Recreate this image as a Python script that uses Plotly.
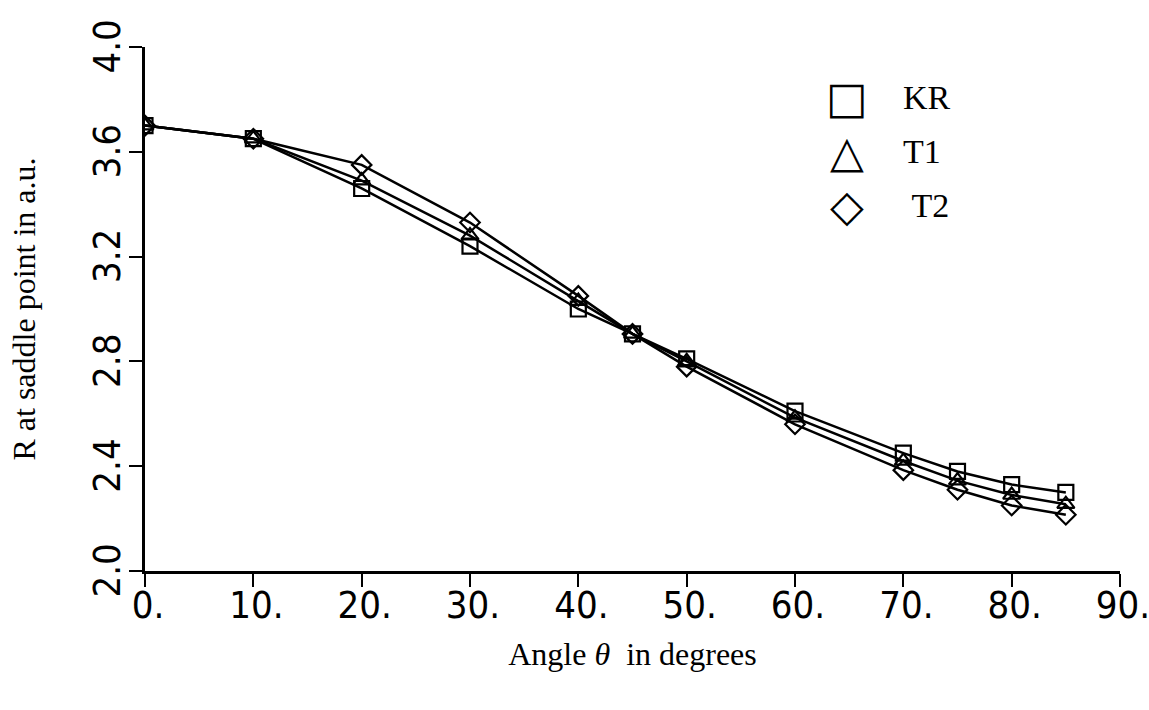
import plotly.graph_objects as go

# Saddle-point distance R (a.u.) versus the angle theta (degrees)
angles = [0, 10, 20, 30, 40, 45, 50, 60, 70, 75, 80, 85]
r_kr = [3.70, 3.65, 3.46, 3.24, 3.00, 2.905, 2.81, 2.61, 2.45, 2.38, 2.33, 2.30]
r_t1 = [3.70, 3.65, 3.49, 3.28, 3.03, 2.905, 2.80, 2.585, 2.42, 2.345, 2.29, 2.255]
r_t2 = [3.70, 3.65, 3.55, 3.33, 3.05, 2.905, 2.78, 2.56, 2.385, 2.31, 2.25, 2.215]

series_names = ["KR", "T1", " T2"]
series_values = [r_kr, r_t1, r_t2]
series_symbols = ["square-open", "triangle-up-open", "diamond-open"]
legend_glyphs = ["\u25A1", "\u25B3", "\u25C7"]

x_tick_vals = [0, 10, 20, 30, 40, 50, 60, 70, 80, 90]
x_tick_text = ["0.", "10.", "20.", "30.", "40.", "50.", "60.", "70.", "80.", "90."]
y_tick_vals = [2.0, 2.4, 2.8, 3.2, 3.6, 4.0]
y_tick_text = ["2.0", "2.4", "2.8", "3.2", "3.6", "4.0"]

TICK_FONT = dict(family="Liberation Sans Narrow, DejaVu Sans Condensed, sans-serif", size=38, color="black")
SERIF = "Liberation Serif"

fig = go.Figure()
for name, vals, sym in zip(series_names, series_values, series_symbols):
    fig.add_trace(go.Scatter(
        x=angles, y=vals, name=name.strip(), mode="lines+markers",
        line=dict(color="black", width=2.5),
        marker=dict(symbol=sym, size=15, color="black", line=dict(width=2.2, color="black")),
        showlegend=False,
    ))

# Legend block: symbol glyph and label per series
legend_rows_y = [0.903, 0.800, 0.698]
for glyph, name, ly in zip(legend_glyphs, series_names, legend_rows_y):
    fig.add_annotation(xref="paper", yref="paper", x=0.72, y=ly, text=glyph,
                       showarrow=False, xanchor="center", yanchor="middle",
                       font=dict(family="DejaVu Sans", size=44, color="black"))
    fig.add_annotation(xref="paper", yref="paper", x=0.775, y=ly, text=name.replace(" ", "&nbsp;"),
                       showarrow=False, xanchor="left", yanchor="middle",
                       font=dict(family=SERIF, size=34, color="black"))

fig.update_layout(
    width=1149, height=710,
    margin=dict(l=145, r=29, t=47, b=139),
    paper_bgcolor="white", plot_bgcolor="white",
    xaxis=dict(
        range=[0, 90], tickmode="array", tickvals=x_tick_vals, ticktext=x_tick_text,
        showgrid=False, zeroline=False, showline=True, linecolor="black", linewidth=3,
        ticks="outside", ticklen=13, tickwidth=2, tickcolor="black",
        tickfont=TICK_FONT, ticklabelshift=3, ticklabelstandoff=-15,
        ticklabeloverflow="allow", automargin=False,
        title=dict(text="Angle <i>θ</i>  in degrees", font=dict(family=SERIF, size=32, color="black"),
                   standoff=18),
    ),
    yaxis=dict(
        range=[2.0, 4.0], tickmode="array", tickvals=y_tick_vals, ticktext=y_tick_text,
        showgrid=False, zeroline=False, showline=True, linecolor="black", linewidth=3,
        ticks="outside", ticklen=13, tickwidth=2, tickcolor="black",
        tickfont=TICK_FONT, tickangle=-90, ticklabelshift=5, ticklabelstandoff=-6,
        ticklabeloverflow="allow", automargin=False,
        title=dict(text="R at saddle point in a.u.", font=dict(family=SERIF, size=32, color="black"),
                   standoff=40),
    ),
)

fig.write_html("out.html")
